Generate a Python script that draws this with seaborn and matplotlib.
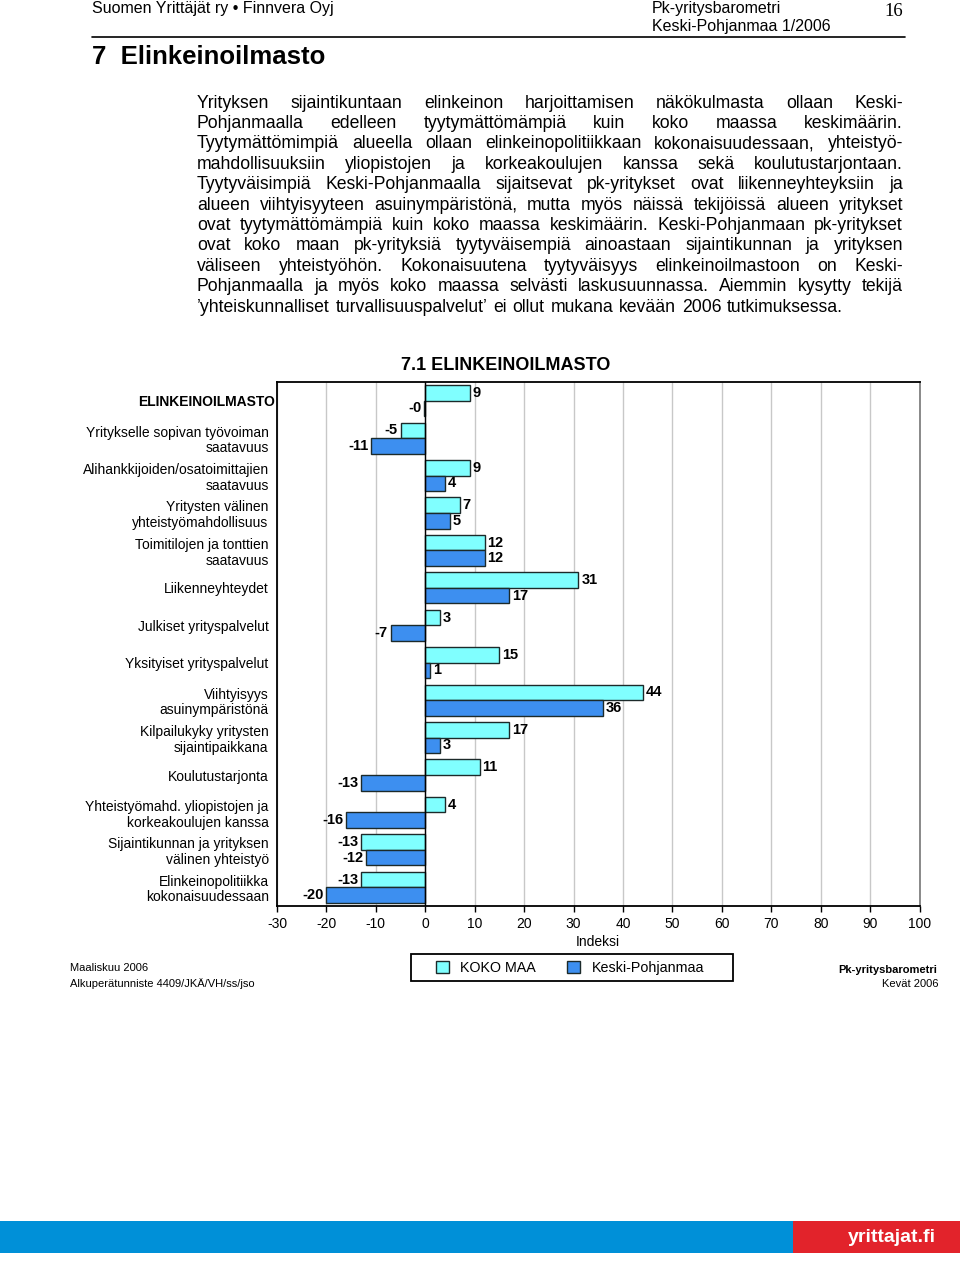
import matplotlib
matplotlib.use("Agg")
import matplotlib.pyplot as plt
from matplotlib.patches import Rectangle
from matplotlib.lines import Line2D
import matplotlib.transforms as mtransforms
import seaborn as sns
import pandas as pd

# data
categories = [
    "ELINKEINOILMASTO",
    "Yritykselle sopivan työvoiman\nsaatavuus",
    "Alihankkijoiden/osatoimittajien\nsaatavuus",
    "Yritysten välinen\nyhteistyömahdollisuus",
    "Toimitilojen ja tonttien\nsaatavuus",
    "Liikenneyhteydet",
    "Julkiset yrityspalvelut",
    "Yksityiset yrityspalvelut",
    "Viihtyisyys\nasuinympäristönä",
    "Kilpailukyky yritysten\nsijaintipaikkana",
    "Koulutustarjonta",
    "Yhteistyömahd. yliopistojen ja\nkorkeakoulujen kanssa",
    "Sijaintikunnan ja yrityksen\nvälinen yhteistyö",
    "Elinkeinopolitiikka\nkokonaisuudessaan",
]
koko_maa = [9, -5, 9, 7, 12, 31, 3, 15, 44, 17, 11, 4, -13, -13]
keski_pohjanmaa = [-0.2, -11, 4, 5, 12, 17, -7, 1, 36, 3, -13, -16, -12, -20]
series_names = ["KOKO MAA", "Keski-Pohjanmaa"]
x_ticks = [-30, -20, -10, 0, 10, 20, 30, 40, 50, 60, 70, 80, 90, 100]

paragraph = [
    "Yrityksen sijaintikuntaan elinkeinon harjoittamisen näkökulmasta ollaan Keski-",
    "Pohjanmaalla edelleen tyytymättömämpiä kuin koko maassa keskimäärin.",
    "Tyytymättömimpiä alueella ollaan elinkeinopolitiikkaan kokonaisuudessaan, yhteistyö-",
    "mahdollisuuksiin yliopistojen ja korkeakoulujen kanssa sekä koulutustarjontaan.",
    "Tyytyväisimpiä Keski-Pohjanmaalla sijaitsevat pk-yritykset ovat liikenneyhteyksiin ja",
    "alueen viihtyisyyteen asuinympäristönä, mutta myös näissä tekijöissä alueen yritykset",
    "ovat tyytymättömämpiä kuin koko maassa keskimäärin. Keski-Pohjanmaan pk-yritykset",
    "ovat koko maan pk-yrityksiä tyytyväisempiä ainoastaan sijaintikunnan ja yrityksen",
    "väliseen yhteistyöhön. Kokonaisuutena tyytyväisyys elinkeinoilmastoon on Keski-",
    "Pohjanmaalla ja myös koko maassa selvästi laskusuunnassa. Aiemmin kysytty tekijä",
    "’yhteiskunnalliset turvallisuuspalvelut’ ei ollut mukana kevään 2006 tutkimuksessa.",
]

df = pd.DataFrame({
    "kategoria": categories * 2,
    "sarja": [series_names[0]] * len(categories) + [series_names[1]] * len(categories),
    "indeksi": koko_maa + keski_pohjanmaa,
})

sns.set_theme(style="white")
plt.rcParams["font.family"] = ["Liberation Sans", "DejaVu Sans"]
plt.rcParams["text.color"] = "black"
plt.rcParams["axes.labelcolor"] = "black"
plt.rcParams["xtick.color"] = "black"
plt.rcParams["ytick.color"] = "black"

W, H = 960, 1261
fig = plt.figure(figsize=(W / 100, H / 100), dpi=100)

def fx(x):
    return x / W

def fy(y):
    return 1 - y / H

# kaavion akselit
ax = fig.add_axes([fx(277), fy(906), fx(919.5) - fx(277), fy(382) - fy(906)])
sns.barplot(data=df, x="indeksi", y="kategoria", hue="sarja", orient="h",
            palette=["#80ffff", "#3d8ff0"], edgecolor="#1c2a2a", linewidth=1.0,
            width=0.83, ax=ax, saturation=1)
handles, labels = ax.get_legend_handles_labels()
ax.get_legend().remove()

for cont in ax.containers:
    ax.bar_label(cont, fmt="{:.0f}", padding=2, fontsize=10.5, fontweight="bold", color="black")

ax.set_xlim(-30, 100)
ax.set_ylim(len(categories) - 0.5, -0.5)
ax.set_xticks(x_ticks)
ax.set_xticklabels([str(t) for t in x_ticks], fontsize=10)
ax.grid(axis="x", color="#c8c8c8", lw=1)
ax.set_axisbelow(True)
ax.axvline(0, color="black", lw=1, zorder=1.5)
ax.tick_params(axis="x", bottom=True, length=4, width=1, color="black", pad=4)
ax.tick_params(axis="y", left=False, length=0, pad=6)
ax.set_ylabel("")
ax.set_xlabel("Indeksi", fontsize=10, labelpad=3)
for lbl in ax.get_yticklabels():
    lbl.set_fontsize(10)
    lbl.set_linespacing(1.15)
first = ax.get_yticklabels()[0]
first.set_fontweight("bold")
first.set_transform(first.get_transform() + mtransforms.ScaledTranslation(6 / 100, 0, fig.dpi_scale_trans))
for s in ["left", "top", "bottom"]:
    ax.spines[s].set_color("black")
    ax.spines[s].set_linewidth(1.3)
ax.spines["right"].set_color("#808080")
ax.spines["right"].set_linewidth(1.3)

fig.text(fx(506), fy(365), "7.1 ELINKEINOILMASTO", fontsize=13, fontweight="bold",
         ha="center", va="center")

# selite: kehys erikseen
fig.add_artist(Rectangle((fx(411), fy(981)), fx(733) - fx(411), fy(954) - fy(981),
                         facecolor="white", edgecolor="black", lw=1.3, transform=fig.transFigure))
leg = fig.legend(handles, labels, loc="center", ncol=2,
                 bbox_to_anchor=(fx(570), fy(968)), frameon=False,
                 borderaxespad=0, fontsize=10.3, handlelength=0.9, handleheight=0.9,
                 handletextpad=0.8, columnspacing=2.2, borderpad=0)

# alatunniste
fig.text(fx(70), fy(968), "Maaliskuu 2006", fontsize=8, va="center")
fig.text(fx(70), fy(984), "Alkuperätunniste 4409/JKÄ/VH/ss/jso", fontsize=8, va="center")
fig.text(fx(937), fy(970), "Pk-yritysbarometri", fontsize=8, fontweight="bold", ha="right", va="center")
fig.text(fx(938), fy(984), "Kevät 2006", fontsize=8, ha="right", va="center")

# ylätunniste
fig.text(fx(92), fy(8), "Suomen Yrittäjät ry • Finnvera Oyj", fontsize=11.5, va="center")
fig.text(fx(652), fy(8), "Pk-yritysbarometri", fontsize=11.5, va="center")
fig.text(fx(652), fy(26), "Keski-Pohjanmaa 1/2006", fontsize=11.5, va="center")
fig.text(fx(903), fy(11), "16", fontsize=13.5, family=["Liberation Serif", "DejaVu Serif"],
         ha="right", va="center")
fig.add_artist(Line2D([fx(92), fx(905)], [fy(37), fy(37)], color="black", lw=1.2,
                      transform=fig.transFigure))
fig.text(fx(92), fy(57), "7  Elinkeinoilmasto", fontsize=18.5, fontweight="bold", va="center")

# tasattu kappale
fig.canvas.draw()
renderer = fig.canvas.get_renderer()
x0, x1 = 197, 903
for i, line in enumerate(paragraph):
    y = 103 + i * 20.4
    words = line.split(" ")
    texts = [fig.text(0, fy(y), w, fontsize=12.7, va="center") for w in words]
    widths = [t.get_window_extent(renderer).width for t in texts]
    if i == len(paragraph) - 1:
        gap = 5.8
    else:
        gap = (x1 - x0 - sum(widths)) / (len(words) - 1)
    x = x0
    for t, w in zip(texts, widths):
        t.set_x(fx(x))
        x += w + gap

# alapalkki
fig.add_artist(Rectangle((0, fy(1253)), fx(793), fy(1221) - fy(1253),
                         facecolor="#0090d8", edgecolor="none", transform=fig.transFigure))
fig.add_artist(Rectangle((fx(793), fy(1253)), 1 - fx(793), fy(1221) - fy(1253),
                         facecolor="#e2232b", edgecolor="none", transform=fig.transFigure))
fig.text(fx(892), fy(1238), "yrittajat.fi", fontsize=14, fontweight="bold", color="white",
         ha="center", va="center", family=["Liberation Sans Narrow", "Liberation Sans"])

fig.savefig("out.png", dpi=100)
